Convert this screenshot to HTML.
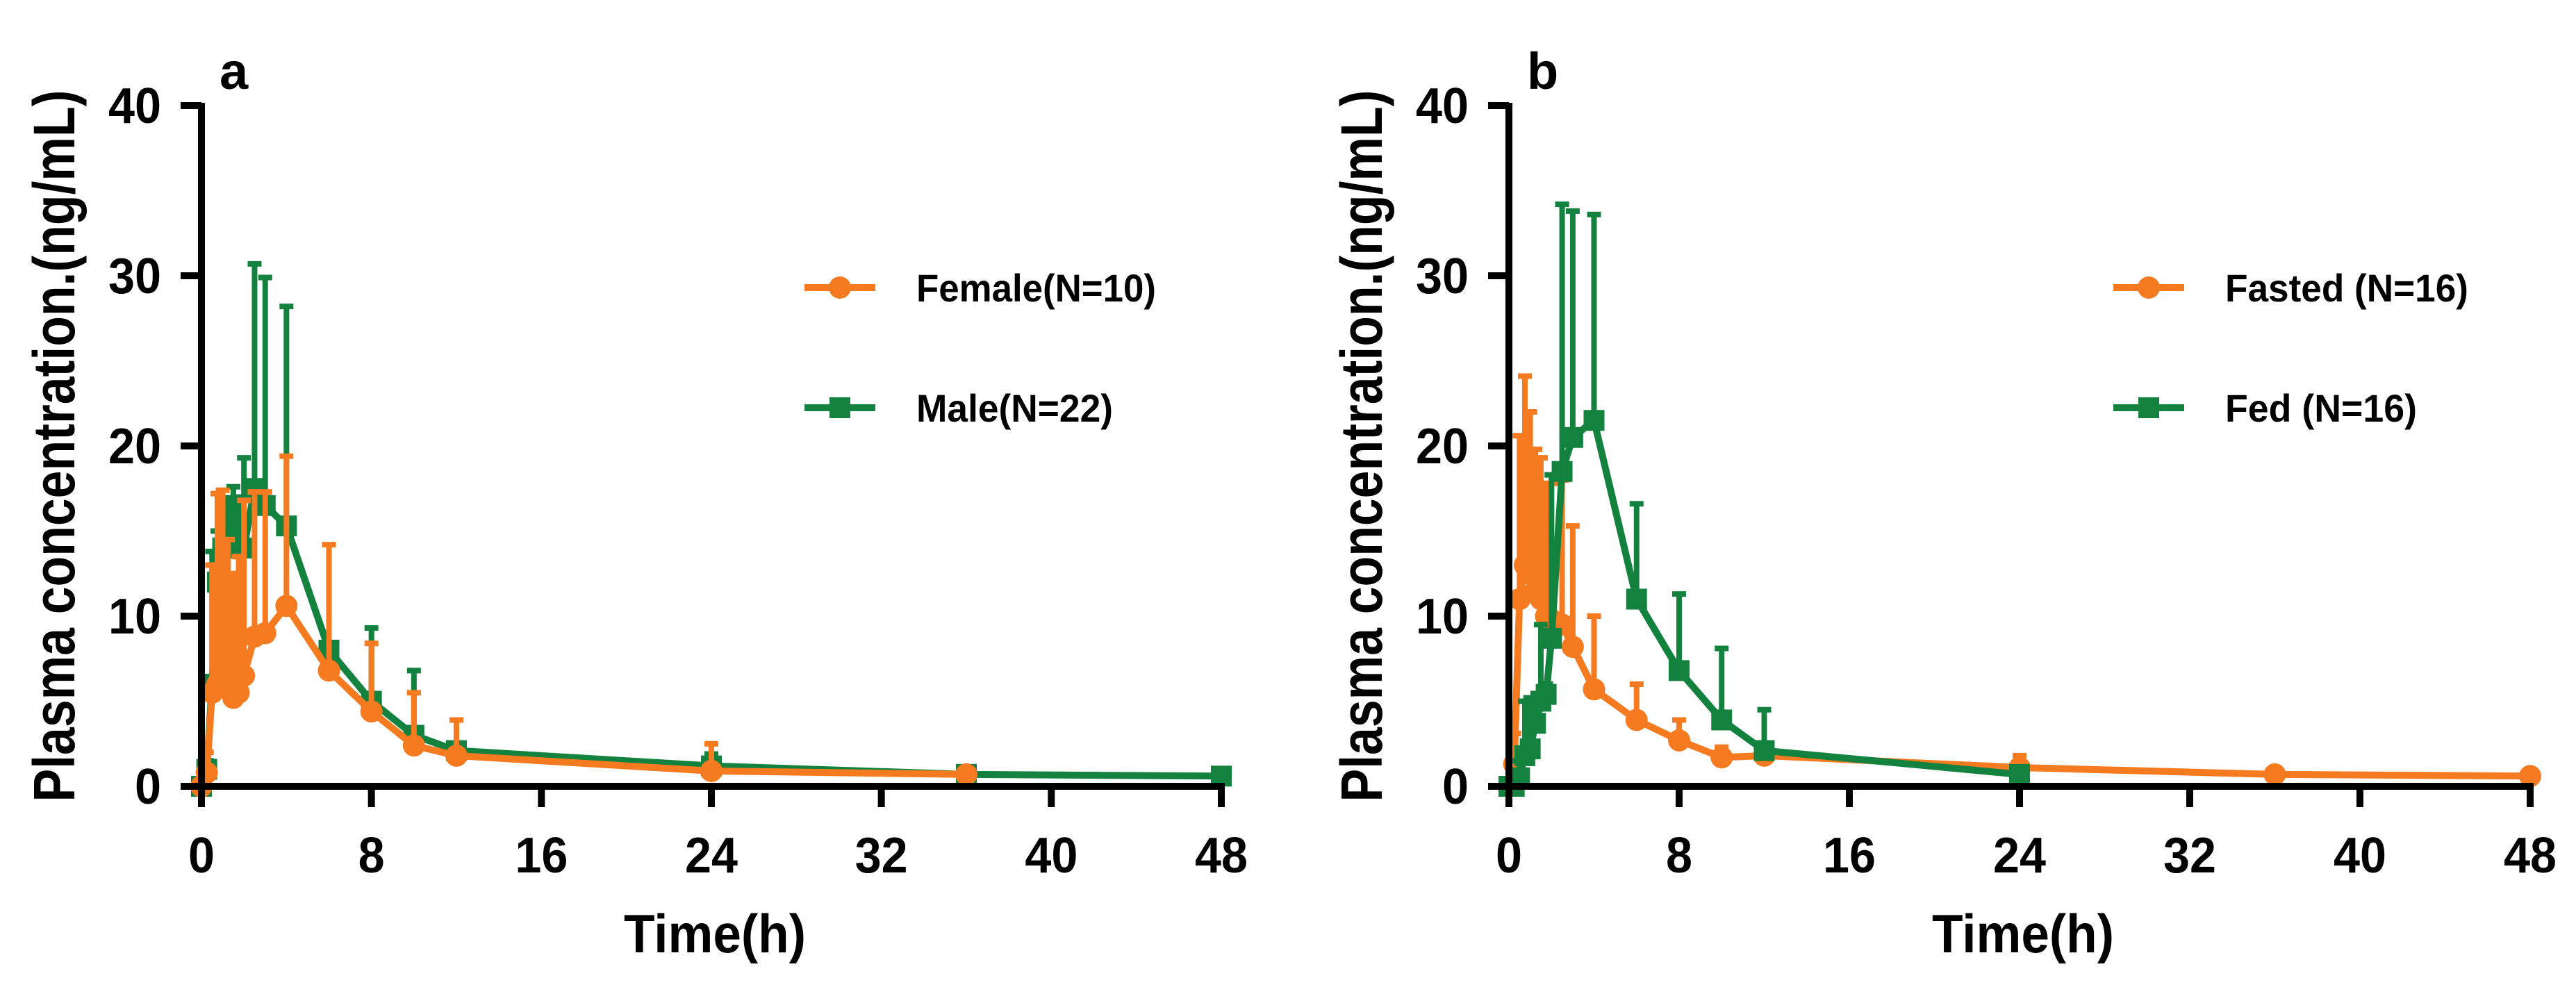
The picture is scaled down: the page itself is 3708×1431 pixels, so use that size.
<!DOCTYPE html>
<html><head><meta charset="utf-8"><style>
html,body{margin:0;padding:0;background:#fff;}
svg{display:block;font-family:"Liberation Sans",Arial,sans-serif;font-weight:bold;}
</style></head><body>
<svg id="chart" width="3708" height="1431" viewBox="0 0 3708 1431" xmlns="http://www.w3.org/2000/svg"></svg>
<script>
const xTicks=[0,8,16,24,32,40,48];
const yTicks=[0,10,20,30,40];
const femaleT=[0,0.25,0.5,0.75,1,1.25,1.5,1.75,2,2.5,3,4,6,8,10,12,24,36];
const femaleY=[0,0.8,5.5,6,6.5,5.8,5.2,5.5,6.5,8.8,9,10.6,6.8,4.4,2.4,1.8,0.9,0.7];
const femaleUp=[0,2,13,17.2,17.4,14.5,12.5,13.5,16.8,17.3,17.3,19.4,14.2,8.4,5.5,3.9,2.5,0.9];
const maleT=[0,0.25,0.5,0.75,1,1.25,1.5,1.75,2,2.5,3,4,6,8,10,12,24,36,48];
const maleY=[0,1,6,12,14,14,16.5,15,14,17.5,16.5,15.3,8,5,3,2.1,1.2,0.7,0.6];
const maleUp=[0,1.5,13.8,15,16.8,16,17.6,17,19.3,30.7,29.9,28.2,8.2,9.3,6.8,2.5,1.9,0.9,0.7];
const fastedT=[0,0.25,0.5,0.75,1,1.25,1.5,1.75,2,2.5,3,4,6,8,10,12,24,36,48];
const fastedY=[0,1.3,11,13,12.5,11.5,11,10,9.8,9.5,8.2,5.7,3.9,2.7,1.7,1.8,1.1,0.7,0.6];
const fastedUp=[0,3.1,20.6,24.1,22,19.8,19.3,17.8,17.8,18,15.3,10,6,3.9,2.3,2.5,1.8,0.9,0.7];
const fedT=[0,0.25,0.5,0.75,1,1.25,1.5,1.75,2,2.5,3,4,6,8,10,12,24];
const fedY=[0,0,0.5,1.8,2.2,3.7,5,5.4,8.7,18.5,20.5,21.5,11,6.8,3.9,2.1,0.7];
const fedUp=[0,0.3,1.5,5,5.2,4.5,9.5,6,18.3,34.2,33.8,33.6,16.6,11.3,8.1,4.5,1];

const NS="http://www.w3.org/2000/svg";
const svg=document.getElementById('chart');
const ORANGE="#f57a20", GREEN="#13823f";
function mk(tag,attrs,parent){const e=document.createElementNS(NS,tag);for(const k in attrs)e.setAttribute(k,attrs[k]);(parent||svg).appendChild(e);return e;}

function panel(p){
  const g=mk('g',{});
  
  
  const X=v=>p.x0+(v/48)*(p.x1-p.x0);
  const Y=v=>1132-(v/40)*(1132-152);
  p.drawOrder.forEach(idx=>{
    const s=p.series[idx];
    const sg=mk('g',{},g);
    
    
    s.t.forEach((t,i)=>{
      if(s.up[i]>s.y[i]){
        const eb=mk('path',{d:`M${X(t)},${Y(s.y[i])}V${Y(s.up[i])}M${X(t)-10},${Y(s.up[i])}H${X(t)+10}`,stroke:s.c,'stroke-width':8,fill:'none'},sg);
        
        
      }
    });
    const ln=mk('polyline',{points:s.t.map((t,i)=>X(t)+','+Y(s.y[i])).join(' '),stroke:s.c,'stroke-width':10,fill:'none','stroke-linejoin':'round'},sg);
    
    
    s.t.forEach((t,i)=>{
      let m;
      if(s.shape==='circle') m=mk('circle',{cx:X(t),cy:Y(s.y[i]),r:16,fill:s.c},sg);
      else m=mk('rect',{x:X(t)-15,y:Y(s.y[i])-15,width:30,height:30,fill:s.c},sg);
      
      
    });
  });
  const ax=mk('path',{d:`M${p.x0},148V${1132}H${p.x1+5}`,stroke:'#000','stroke-width':10,fill:'none'},g);
  
  
  xTicks.forEach(v=>{
    const tk=mk('line',{x1:X(v),x2:X(v),y1:1132,y2:1162,stroke:'#000','stroke-width':10},g);
    
    
    const s=String(v);
    const tl=mk('text',{x:X(v),y:1256,'text-anchor':'middle','font-size':72,textLength:s.length*38,lengthAdjust:'spacingAndGlyphs'},g);
    tl.textContent=s;
    
    
  });
  yTicks.forEach(v=>{
    const tk=mk('line',{x1:p.x0-30,x2:p.x0,y1:Y(v),y2:Y(v),stroke:'#000','stroke-width':10},g);
    
    
    const s=String(v);
    const tl=mk('text',{x:p.x0-58,y:Y(v)+25,'text-anchor':'end','font-size':72,textLength:s.length*38,lengthAdjust:'spacingAndGlyphs'},g);
    tl.textContent=s;
    
    
  });
  const xt=mk('text',{x:(p.x0+p.x1)/2+5,y:1371,'text-anchor':'middle','font-size':78,textLength:262,lengthAdjust:'spacingAndGlyphs'},g);
  xt.textContent='Time(h)';
  
  
  const yt=mk('text',{x:0,y:0,'text-anchor':'middle','font-size':84,textLength:1025,lengthAdjust:'spacingAndGlyphs',transform:`translate(${p.x0-183},642) rotate(-90)`},g);
  yt.textContent='Plasma concentration.(ng/mL)';
  
  
  const lb=mk('text',{x:p.x0+26,y:128,'font-size':74},g);
  lb.textContent=p.label;
  
  
  p.series.forEach((s,i)=>{
    const ly=414+i*173;
    const lg=mk('g',{},g);
    
    
    mk('line',{x1:p.lx,x2:p.lx+102,y1:ly,y2:ly,stroke:s.c,'stroke-width':10},lg);
    if(s.shape==='circle') mk('circle',{cx:p.lx+51,cy:ly,r:16,fill:s.c},lg);
    else mk('rect',{x:p.lx+36,y:ly-15,width:30,height:30,fill:s.c},lg);
    const tx=mk('text',{x:p.lx+161,y:ly+20,'font-size':56,textLength:s.tl,lengthAdjust:'spacingAndGlyphs'},lg);
    tx.textContent=s.label;
  });
}
panel({name:'panel-a',label:'a',x0:290,x1:1758,lx:1158,drawOrder:[1,0],series:[
  {key:'female',label:'Female(N=10)',tl:345,c:ORANGE,shape:'circle',t:femaleT,y:femaleY,up:femaleUp},
  {key:'male',label:'Male(N=22)',tl:283,c:GREEN,shape:'square',t:maleT,y:maleY,up:maleUp}]});
panel({name:'panel-b',label:'b',x0:2172,x1:3642,lx:3042,drawOrder:[0,1],series:[
  {key:'fasted',label:'Fasted (N=16)',tl:350,c:ORANGE,shape:'circle',t:fastedT,y:fastedY,up:fastedUp},
  {key:'fed',label:'Fed (N=16)',tl:276,c:GREEN,shape:'square',t:fedT,y:fedY,up:fedUp}]});
</script>
</body></html>
